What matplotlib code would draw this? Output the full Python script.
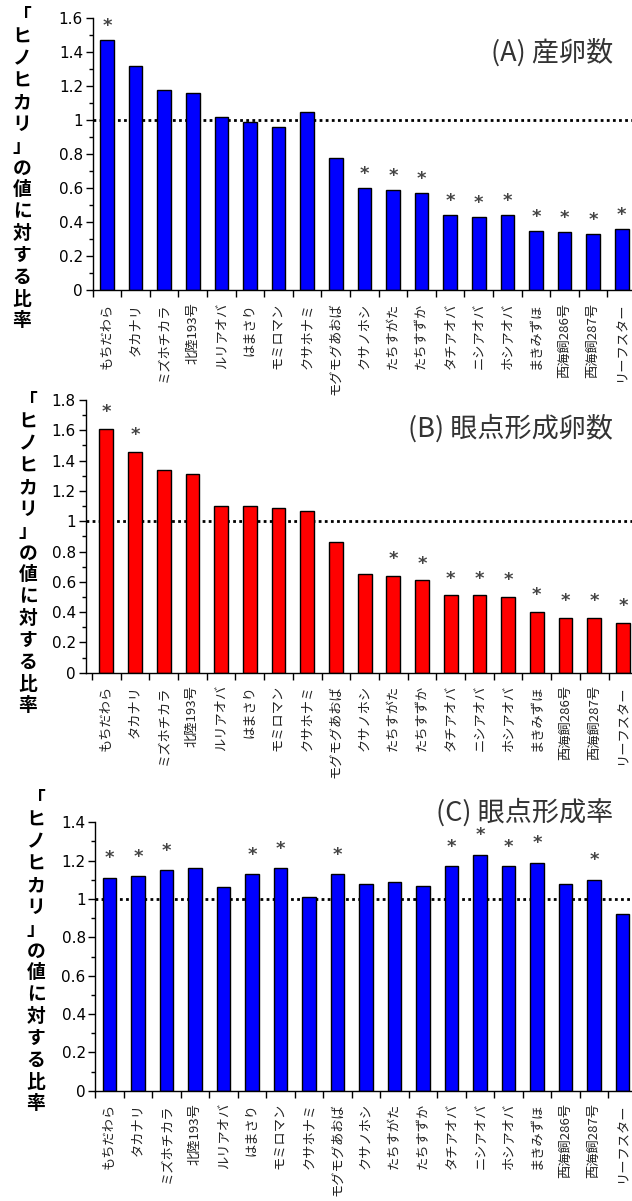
import matplotlib
matplotlib.use('Agg')
import matplotlib.pyplot as plt
from matplotlib.ticker import MultipleLocator, FixedLocator, FuncFormatter, NullFormatter

plt.rcParams['font.family'] = ['Noto Sans CJK JP', 'DejaVu Sans']

varieties = ['もちだわら', 'タカナリ', 'ミズホチカラ', '北陸193号', 'ルリアオバ', 'はまさり',
             'モミロマン', 'クサホナミ', 'モグモグあおば', 'クサノホシ', 'たちすがた', 'たちすずか',
             'タチアオバ', 'ニシアオバ', 'ホシアオバ', 'まきみずほ', '西海飼286号', '西海飼287号',
             'リーフスター']

# (A) 産卵数
egg_count = [1.47, 1.32, 1.18, 1.16, 1.02, 0.99, 0.96, 1.05, 0.78, 0.60, 0.59, 0.57,
             0.44, 0.43, 0.44, 0.35, 0.34, 0.33, 0.36]
egg_sig = [1, 0, 0, 0, 0, 0, 0, 0, 0, 1, 1, 1, 1, 1, 1, 1, 1, 1, 1]

# (B) 眼点形成卵数
eyed_count = [1.61, 1.46, 1.34, 1.31, 1.10, 1.10, 1.09, 1.07, 0.86, 0.65, 0.64, 0.61,
              0.51, 0.51, 0.50, 0.40, 0.36, 0.36, 0.33]
eyed_sig = [1, 1, 0, 0, 0, 0, 0, 0, 0, 0, 1, 1, 1, 1, 1, 1, 1, 1, 1]

# (C) 眼点形成率
eyed_rate = [1.11, 1.12, 1.15, 1.16, 1.06, 1.13, 1.16, 1.01, 1.13, 1.08, 1.09, 1.07,
             1.17, 1.23, 1.17, 1.19, 1.08, 1.10, 0.92]
rate_sig = [1, 1, 1, 0, 0, 1, 1, 0, 1, 0, 0, 0, 1, 1, 1, 1, 0, 1, 0]

titles = ['(A) 産卵数', '(B) 眼点形成卵数', '(C) 眼点形成率']
ylabel = '「ヒノヒカリ」の値に対する比率'

W, H = 632, 1201
fig = plt.figure(figsize=(W / 100, H / 100), dpi=100)

num_font = ['Liberation Sans Narrow', 'DejaVu Sans']


def px_rect(x0, x1, ytop, ybot):
    return [x0 / W, 1 - ybot / H, (x1 - x0) / W, (ybot - ytop) / H]


def panel(rect, xleft, values, sig, color, ymax, title, title_pos, lab_pos, star_off):
    ax = fig.add_axes(rect)
    x = list(range(len(values)))
    ax.axhline(1.0, color='black', ls=(0, (1, 1.2)), lw=2, zorder=1)
    ax.bar(x, values, width=0.48, color=color, edgecolor='black', linewidth=1, zorder=2)
    for i, (v, s) in enumerate(zip(values, sig)):
        if s:
            ax.annotate('*', (i, v), xytext=(0, star_off), textcoords='offset points',
                        ha='center', va='center', fontsize=13, color='#444444',
                        fontweight='bold', family=num_font)
    ax.set_xlim(xleft, len(values) - 0.5)
    ax.set_ylim(0, ymax)
    for s in ['top', 'right']:
        ax.spines[s].set_visible(False)
    ax.spines['left'].set_linewidth(1)
    ax.spines['bottom'].set_linewidth(1)

    ax.xaxis.set_major_locator(FixedLocator([i - 0.5 for i in range(len(values) + 1)]))
    ax.xaxis.set_major_formatter(NullFormatter())
    ax.xaxis.set_minor_locator(FixedLocator(x))
    ax.set_xticklabels(varieties, minor=True, rotation=90, fontsize=9.5, color='#222222')
    ax.tick_params(axis='x', which='major', direction='out', length=5, width=1)
    ax.tick_params(axis='x', which='minor', length=0, pad=9)

    ax.yaxis.set_major_locator(MultipleLocator(0.2))
    ax.yaxis.set_minor_locator(MultipleLocator(0.1))
    ax.yaxis.set_major_formatter(FuncFormatter(lambda v, p: f'{v:.1f}'.rstrip('0').rstrip('.') if v else '0'))
    ax.tick_params(axis='y', which='major', direction='out', length=5, width=1, labelsize=11, pad=2)
    ax.tick_params(axis='y', which='minor', direction='out', length=3, width=1)
    for t in ax.get_yticklabels():
        t.set_family(num_font)

    fig.text(title_pos[0] / W, 1 - title_pos[1] / H, title, ha='right', va='center',
             fontsize=19.5, color='#333333')
    fig.text(lab_pos[0] / W, 1 - lab_pos[1] / H, '\n'.join(ylabel), ha='center', va='center',
             fontsize=13.5, fontweight='bold', linespacing=1.19)
    return ax


panel(px_rect(92.7, 636.1, 18.3, 290.0), -0.5, egg_count, egg_sig, '#0000ff', 1.6,
      titles[0], (613, 53), (22, 168), 10)
panel(px_rect(85.5, 637.3, 400.0, 672.7), -0.726, eyed_count, eyed_sig, '#ff0000', 1.8,
      titles[1], (613, 428), (28, 553), 12)
panel(px_rect(95.4, 636.9, 822.3, 1090.7), -0.5, eyed_rate, rate_sig, '#0000ff', 1.4,
      titles[2], (613, 813), (36, 951), 14)

fig.savefig('out.png', dpi=100)
